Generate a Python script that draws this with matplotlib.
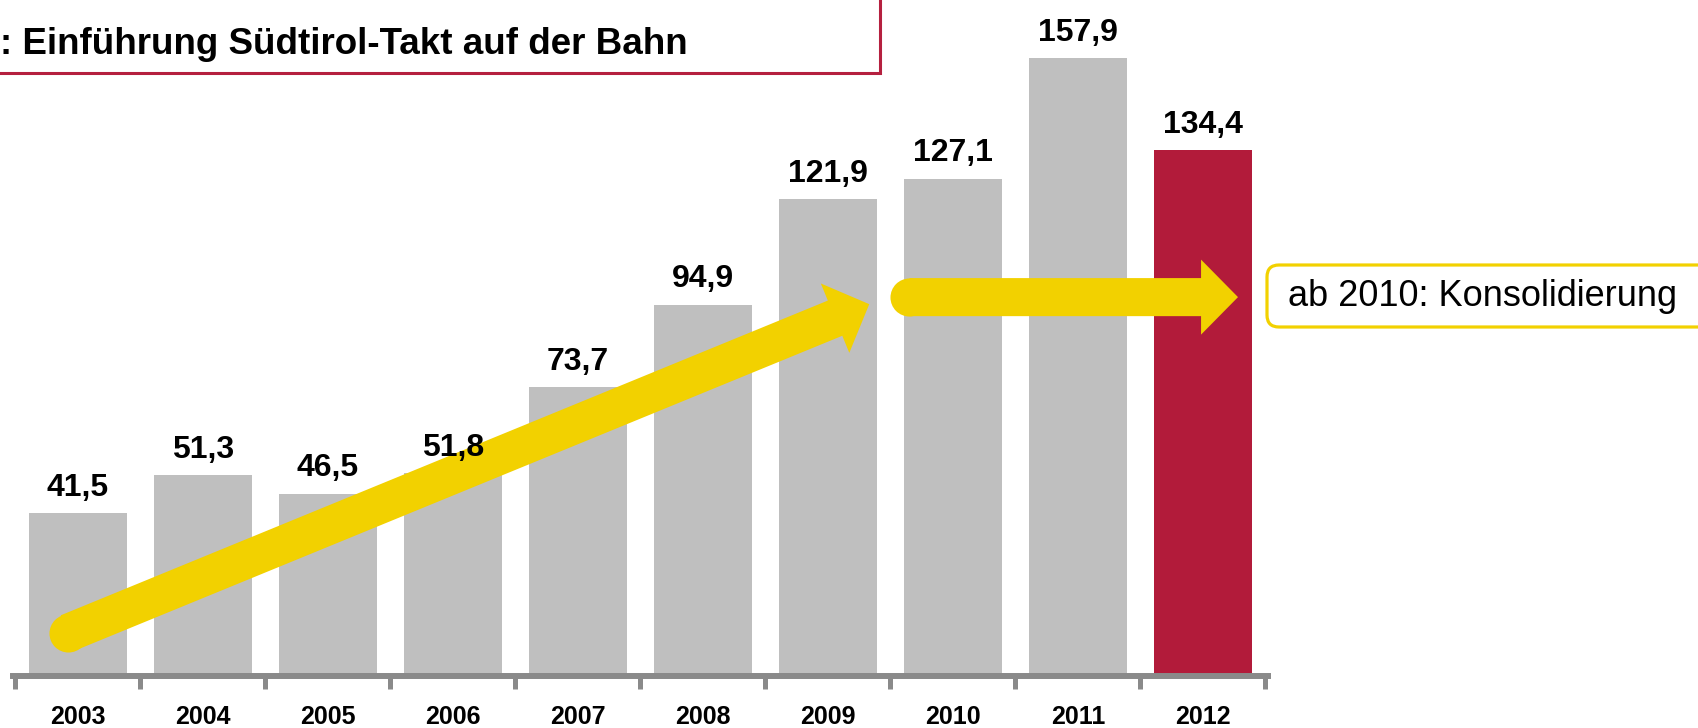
import numpy as np
import matplotlib
matplotlib.use("Agg")
import matplotlib.pyplot as plt
from matplotlib.patches import FancyArrowPatch, FancyBboxPatch, Rectangle
from matplotlib.transforms import IdentityTransform

plt.rcParams['font.family'] = ['Liberation Sans', 'DejaVu Sans']

years = ['2003', '2004', '2005', '2006', '2007', '2008', '2009', '2010', '2011', '2012']
values = [41.5, 51.3, 46.5, 51.8, 73.7, 94.9, 121.9, 127.1, 157.9, 134.4]
title = ": Einführung Südtirol-Takt auf der Bahn"
note = "ab 2010: Konsolidierung"

grey = '#BFBFBF'
red = '#B21B3A'
yellow = '#F2D100'
axis_grey = '#8A8A8A'
colors = [grey] * (len(years) - 1) + [red]

fig = plt.figure(figsize=(16.99, 7.28), dpi=100)
ax = fig.add_axes([0, 0, 1, 1])
x = np.arange(len(years))
ax.bar(x, values, width=0.784, color=colors, zorder=2)
ax.set_xlim(-0.624, 12.968)
ax.set_ylim(-13.43, 172.81)

# value labels
for xi, v in zip(x, values):
    ax.annotate(f'{v:.1f}'.replace('.', ','), (xi, v), xytext=(0, 12.5),
                textcoords='offset points', ha='center', va='baseline',
                fontsize=23, fontweight='bold', zorder=5)

# axis
for s in ['left', 'right', 'top']:
    ax.spines[s].set_visible(False)
ax.spines['bottom'].set_position(('data', 0))
ax.spines['bottom'].set_bounds(-0.52, 9.52)
ax.spines['bottom'].set_color(axis_grey)
ax.spines['bottom'].set_linewidth(4.3)
ax.spines['bottom'].set_zorder(3)
ax.set_yticks([])
ax.set_xticks(x)
ax.set_xticklabels(years, fontsize=18, fontweight='bold')
ax.set_xticks(np.arange(-0.5, len(years), 1), minor=True)
ax.tick_params(axis='x', which='major', length=0, pad=21)
ax.tick_params(axis='x', which='minor', length=9, width=3.6, color=axis_grey, direction='out')


def arrow(x0, y0, x1, y1):
    ap = FancyArrowPatch((x0, y0), (x1, y1),
                         arrowstyle='simple,head_length=26.6,head_width=54,tail_width=27.4',
                         mutation_scale=1, color=yellow, shrinkA=0, shrinkB=0, lw=0, zorder=4)
    ax.add_patch(ap)
    ax.plot([x0], [y0], 'o', ms=27.4, color=yellow, mew=0, zorder=4)


arrow(-0.08, 10.9, 6.33, 95.0)
arrow(6.652, 96.8, 9.28, 96.8)

# title box
fig.add_artist(Rectangle((-10, 655), 890, 90, transform=IdentityTransform(),
                         fill=False, ec='#B5203F', lw=2.2))
fig.text(0.0, (728 - 54) / 728, title, fontsize=26.5, fontweight='bold',
         ha='left', va='baseline')

# callout box
fig.add_artist(FancyBboxPatch((1267, 401), 460, 62, transform=IdentityTransform(),
                              boxstyle='round,pad=0,rounding_size=12',
                              fc='white', ec=yellow, lw=2.3))
fig.text(1288 / 1699, 1 - 296 / 728, note, fontsize=26, ha='left', va='center')

fig.savefig('out.png', dpi=100)
